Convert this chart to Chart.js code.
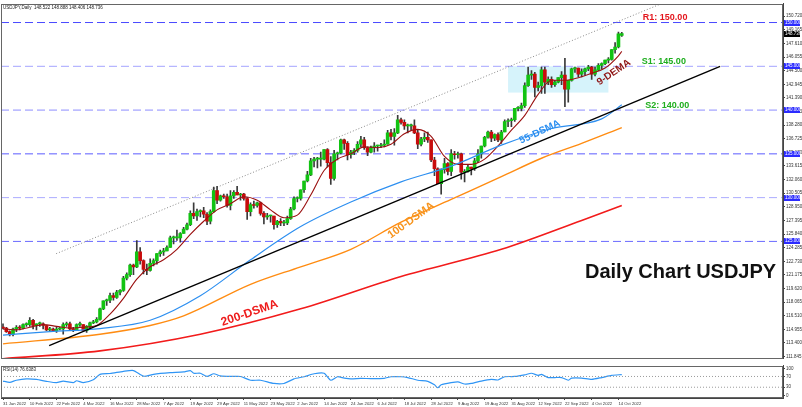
<!DOCTYPE html>
<html lang="en">
<head>
<meta charset="UTF-8">
<title>USDJPY Daily</title>
<script src="https://cdn.jsdelivr.net/npm/chart.js"></script>
<style>
  html, body { margin: 0; padding: 0; background: #fff; }
  #wrap { position: relative; width: 802px; height: 407px; overflow: hidden; }
  #mainBox { position: absolute; left: 0; top: 0; width: 802px; height: 362px; }
  #rsiBox { position: absolute; left: 0; top: 362px; width: 802px; height: 45px; }
</style>
</head>
<body>
<div id="wrap">
  <div id="mainBox"><canvas id="mainChart" width="802" height="362"></canvas></div>
  <div id="rsiBox"><canvas id="rsiChart" width="802" height="45"></canvas></div>
</div>
<script>
// daily bars, 31 Jan 2022 .. 17 Oct 2022 (index 0 .. 185)
const openP = [115.2,115.1,114.7,114.4,115.0,115.2,115.1,115.5,115.5,116.0,
  115.4,115.6,115.6,115.4,114.9,115.0,114.8,115.0,115.0,115.5,
  115.6,115.0,114.9,115.5,115.5,114.8,115.3,115.7,115.8,116.1,
  117.3,118.2,118.3,118.8,118.6,119.2,119.4,120.8,121.2,122.3,
  122.1,123.8,122.8,121.8,121.7,122.5,122.8,123.6,123.8,123.9,
  124.3,125.4,125.4,125.4,125.9,126.4,126.9,128.2,127.9,128.4,
  128.5,128.1,127.3,128.4,130.8,129.7,130.2,130.1,129.1,130.2,
  130.6,130.3,130.4,129.9,128.4,129.2,129.1,129.4,128.2,127.8,
  127.9,127.9,126.9,127.3,127.1,127.1,127.6,128.7,129.9,129.9,
  130.9,131.9,132.6,134.2,134.4,134.4,134.4,135.5,134.0,132.2,
  135.0,135.1,136.6,136.2,134.9,135.2,135.4,136.1,136.6,135.7,
  135.2,135.7,135.9,135.9,136.0,136.1,137.4,137.0,137.4,138.9,
  138.6,138.2,138.2,138.2,137.4,136.1,136.7,136.9,136.6,134.3,
  133.3,131.6,133.2,133.9,133.0,135.0,134.9,135.0,132.9,133.0,
  133.5,133.3,134.2,135.0,135.9,136.9,137.5,136.8,137.2,136.6,
  137.5,138.7,138.8,138.9,140.2,140.2,140.5,142.8,144.0,144.1,
  142.6,142.8,144.6,143.2,143.5,142.9,143.2,143.7,144.0,142.4,
  143.4,144.7,144.8,144.1,144.4,144.7,144.9,144.1,144.6,145.1,
  145.3,145.7,145.8,146.9,147.2,148.522];
const highP = [115.6,115.2,114.8,115.1,115.4,115.4,115.6,115.7,116.3,116.1,
  115.6,115.8,115.7,115.4,115.2,115.1,115.2,115.2,115.7,115.8,
  115.8,115.2,115.6,115.8,115.5,115.4,115.8,116.0,116.3,117.4,
  118.2,118.4,119.1,119.1,119.4,119.5,121.0,121.4,122.4,122.4,
  125.1,124.3,122.9,122.4,123.0,123.0,123.6,124.0,124.2,124.5,
  125.6,125.6,126.3,126.0,126.6,127.1,128.5,129.4,128.7,128.6,
  128.9,128.3,128.6,131.2,131.3,130.3,130.4,130.4,130.8,130.8,
  131.3,130.5,130.5,130.0,129.4,129.6,129.5,129.5,128.4,128.2,
  128.0,127.9,127.4,127.6,127.4,127.9,128.9,130.1,130.1,130.9,
  131.9,133.0,134.5,134.6,134.6,135.2,135.5,135.6,134.7,135.4,
  135.2,136.7,136.7,136.4,135.4,135.6,136.4,137.0,136.9,135.8,
  135.9,136.3,136.0,136.2,136.6,137.7,137.8,137.9,139.4,139.1,
  138.9,138.4,138.4,138.9,137.8,136.9,137.4,137.5,136.6,134.6,
  133.4,133.3,134.5,134.0,135.5,135.3,135.2,135.1,133.2,133.8,
  133.5,134.5,135.5,135.9,137.0,137.6,137.7,137.3,137.4,137.7,
  138.9,139.0,139.1,140.2,140.4,140.8,143.1,144.9,144.5,144.3,
  143.2,144.9,144.9,143.8,143.8,143.4,143.7,144.4,145.9,143.4,
  144.8,144.9,144.8,144.7,144.8,145.1,145.0,144.9,145.3,145.4,
  145.7,146.0,146.9,147.7,148.9,148.888];
const lowP = [115.0,114.6,114.2,114.2,114.7,114.9,115.0,115.3,115.3,115.0,
  114.9,115.3,115.0,114.8,114.8,114.7,114.6,114.9,114.4,115.3,
  114.9,114.7,114.9,115.3,114.8,114.6,115.1,115.6,115.7,116.0,
  117.2,117.7,118.0,118.3,118.5,118.9,119.3,120.6,121.0,121.2,
  122.0,122.4,121.3,121.2,121.6,122.2,122.4,123.3,123.4,123.9,
  124.3,124.7,125.1,124.9,125.9,126.3,126.8,127.6,127.4,127.8,
  127.7,126.9,127.0,128.3,129.3,129.6,129.9,128.9,128.6,129.9,
  130.3,129.7,129.7,127.5,127.9,128.8,128.9,128.0,127.0,127.5,
  127.2,126.4,126.6,126.8,126.8,126.9,127.5,128.6,129.5,129.7,
  130.6,131.8,132.5,133.5,133.4,133.6,134.3,133.5,131.5,132.0,
  134.3,135.0,135.5,134.3,134.5,134.9,135.2,135.8,135.5,134.8,
  135.1,135.2,135.3,135.7,135.8,136.1,136.6,136.0,137.3,138.4,
  137.8,137.4,137.7,137.3,135.6,135.9,136.4,136.3,134.1,132.5,
  131.6,130.4,132.8,132.6,132.5,134.4,134.5,132.1,131.8,132.9,
  132.6,133.1,134.0,134.5,135.8,136.8,136.4,136.5,136.4,136.2,
  137.5,138.1,138.1,138.7,139.9,139.9,140.3,142.7,143.5,141.5,
  142.2,141.9,141.9,142.9,142.6,142.7,143.1,142.9,140.4,140.9,
  143.3,144.3,143.8,143.8,144.0,144.5,143.5,143.9,144.5,144.7,
  145.2,145.4,145.7,146.5,147.1,148.406];
const closeP = [115.1,114.7,114.4,115.0,115.2,115.1,115.5,115.5,116.0,115.4,
  115.6,115.6,115.4,114.9,115.0,114.8,115.0,115.0,115.5,115.6,
  115.0,114.9,115.5,115.5,114.8,115.3,115.7,115.8,116.1,117.3,
  118.2,118.3,118.8,118.6,119.2,119.4,120.8,121.2,122.3,122.1,
  123.8,122.8,121.8,121.7,122.5,122.8,123.6,123.8,123.9,124.3,
  125.4,125.4,125.4,125.9,126.4,126.9,128.2,127.9,128.4,128.5,
  128.1,127.3,128.4,130.8,129.7,130.2,130.1,129.1,130.2,130.6,
  130.3,130.4,129.9,128.4,129.2,129.1,129.4,128.2,127.8,127.9,
  127.9,126.9,127.3,127.1,127.1,127.6,128.7,129.9,129.9,130.9,
  131.9,132.6,134.2,134.4,134.4,134.4,135.5,134.0,132.2,135.0,
  135.1,136.6,136.2,134.9,135.2,135.4,136.1,136.6,135.7,135.2,
  135.7,135.9,135.9,136.0,136.1,137.4,137.0,137.4,138.9,138.6,
  138.2,138.2,138.2,137.4,136.1,136.7,136.9,136.6,134.3,133.3,
  131.6,133.2,133.9,133.0,135.0,134.9,135.0,132.9,133.0,133.5,
  133.3,134.2,135.0,135.9,136.9,137.5,136.8,137.2,136.6,137.5,
  138.7,138.8,138.9,140.2,140.2,140.5,142.8,144.0,144.1,142.6,
  142.8,144.6,143.2,143.5,142.9,143.2,143.7,144.0,142.4,143.4,
  144.7,144.8,144.1,144.4,144.7,144.9,144.1,144.6,145.1,145.3,
  145.7,145.8,146.9,147.2,148.7,148.736];

// moving averages (bar index, price)
const demaIdx = [0,4,8,12,16,20,24,28,32,36,40,44,48,52,56,60,64,68,72,76,80,84,88,92,96,100,104,108,112,116,120,124,128,132,136,140,144,148,152,156,160,164,168,172,176,180,184,185];
const demaVal = [115.0,114.9,115.2,115.5,115.3,115.1,115.2,115.4,116.7,118.5,120.7,122.1,122.9,124.1,125.8,127.3,128.6,129.3,130.1,129.7,128.6,127.7,128.0,130.3,133.1,134.4,135.0,135.8,135.7,136.1,137.3,137.8,137.0,134.7,133.8,133.8,134.4,135.9,137.7,139.4,141.8,143.4,143.4,143.7,144.2,144.8,146.2,146.7];
const sma55Idx = [0,14,29,44,59,74,89,104,119,134,149,164,179,185];
const sma55Val = [114.3,114.7,115.05,116.0,118.8,122.9,126.7,129.5,131.8,133.6,136.0,137.9,139.0,140.6];
const sma100Idx = [0,29,44,54,74,89,104,119,134,149,161,173,185];
const sma100Val = [113.3,114.4,115.4,116.5,120.1,122.1,124.1,127.2,129.8,132.4,134.5,136.2,138.0];
const sma200Idx = [0,29,59,89,119,149,173,185];
const sma200Val = [111.6,112.5,114.4,117.3,121.0,124.1,127.4,129.1];

// RSI(14)
const rsiIdx = [0,2,4,7,10,13,16,18,21,22,24,27,29,32,36,39,42,45,50,54,56,57,59,61,63,65,68,71,74,77,81,84,87,90,93,96,98,100,102,104,107,110,114,116,119,121,124,127,129,130,131,134,136,138,140,143,146,148,150,153,156,158,160,161,163,165,167,169,170,173,176,179,182,185];
const rsiVal = [53,48,56,61,59,52,47,53,47,54,47,58,78,81,89,92,71,78,84,87,92,82,82,70,80,72,70,70,56,56,44,44,61,69,80,82,56,69,64,61,63,62,63,69,69,66,56,52,39,28,39,47,50,42,44,53,59,57,69,70,76,82,74,78,66,66,66,56,64,64,59,66,74,77];

// horizontal levels and drawn objects
const levels = [150, 145, 140, 135, 130, 125];
const trendIdx = [13.8, 214.4];
const trendVal = [113.1, 145.0];
const channelIdx = [15.9, 196.5];
const channelVal = [123.6, 152.1];
const boxIdx = [151, 181];
const boxVal = [142.0, 145.0];

// axis labels
const priceTicks = [111.845,113.400,114.955,116.510,118.065,119.620,121.175,122.730,124.285,125.840,127.395,128.950,130.505,132.060,133.615,135.170,136.725,138.280,139.835,141.390,142.945,144.500,146.055,147.610,149.165,150.720];
const xTickIdx = [0,8,16,24,32,40,48,56,64,72,80,88,96,104,112,120,128,136,144,152,160,168,176,184];
const xTickLabels = ['31 Jan 2022','10 Feb 2022','22 Feb 2022','4 Mar 2022','16 Mar 2022','28 Mar 2022','7 Apr 2022','19 Apr 2022','29 Apr 2022','11 May 2022','23 May 2022','2 Jun 2022','14 Jun 2022','24 Jun 2022','6 Jul 2022','18 Jul 2022','28 Jul 2022','9 Aug 2022','19 Aug 2022','31 Aug 2022','12 Sep 2022','22 Sep 2022','4 Oct 2022','14 Oct 2022'];

const X_MIN = -0.6, X_MAX = 233.2;
const FONT = "'Liberation Sans', Arial, sans-serif";
const levelColors = ['#4a4aff', '#a4a4ff', '#8e8eff', '#5c5cff', '#ababff', '#6a6aff'];

const pts = (xs, ys) => xs.map((x, i) => ({x: x, y: ys[i]}));

// text placed by bar index / price
const notes = [
  {text: 'R1: 150.00', idx: 191.3, price: 150.25, color: '#e3161d', size: 9, angle: 0, align: 'left'},
  {text: 'S1: 145.00', idx: 191.0, price: 145.25, color: '#1fae1f', size: 9, angle: 0, align: 'left'},
  {text: 'S2: 140.00', idx: 192.0, price: 140.25, color: '#1fae1f', size: 9, angle: 0, align: 'left'},
  {text: '9-DEMA', idx: 182.6, price: 144.3, color: '#8e1414', size: 10, angle: -34, align: 'center'},
  {text: '55-DSMA', idx: 160.5, price: 137.5, color: '#2a8ef0', size: 10, angle: -25, align: 'center'},
  {text: '100-DSMA', idx: 122.0, price: 127.4, color: '#f7941d', size: 11, angle: -36, align: 'center'},
  {text: '200-DSMA', idx: 73.7, price: 116.8, color: '#ee1c1c', size: 12, angle: -19, align: 'center'},
  {text: 'Daily Chart USDJPY', idx: 174.0, price: 120.8, color: '#111111', size: 20, angle: 0, align: 'left'}
];

const framePlugin = {
  id: 'frame',
  afterDatasetsDraw(chart) {
    const {ctx, chartArea: a} = chart;
    ctx.save();
    ctx.strokeStyle = '#666';
    ctx.lineWidth = 1;
    ctx.strokeRect(Math.round(a.left) + 0.5, Math.round(a.top) + 0.5,
      Math.round(a.right - a.left) - 1, Math.round(a.bottom - a.top) - 1);
    ctx.restore();
  }
};

const boxPlugin = {
  id: 'rangeBox',
  beforeDatasetsDraw(chart) {
    const {ctx, scales: {x, y}} = chart;
    const x0 = x.getPixelForValue(boxIdx[0]), x1 = x.getPixelForValue(boxIdx[1]);
    const y0 = y.getPixelForValue(boxVal[1]), y1 = y.getPixelForValue(boxVal[0]);
    ctx.save();
    ctx.fillStyle = '#d6f3fb';
    ctx.fillRect(x0, y0, x1 - x0, y1 - y0);
    ctx.restore();
  }
};

const notesPlugin = {
  id: 'notes',
  afterDatasetsDraw(chart) {
    const {ctx, chartArea: a, scales: {x, y}} = chart;
    ctx.save();
    notes.forEach(n => {
      const px = x.getPixelForValue(n.idx), py = y.getPixelForValue(n.price);
      ctx.save();
      ctx.translate(px, py);
      ctx.rotate(n.angle * Math.PI / 180);
      ctx.font = 'bold ' + n.size + 'px ' + FONT;
      ctx.fillStyle = n.color;
      ctx.textAlign = n.align;
      ctx.textBaseline = n.align === 'center' ? 'middle' : 'alphabetic';
      ctx.fillText(n.text, 0, 0);
      ctx.restore();
    });
    // header
    ctx.font = '4.5px ' + FONT;
    ctx.fillStyle = '#222';
    ctx.textAlign = 'left';
    ctx.textBaseline = 'middle';
    ctx.fillText('USDJPY,Daily  ' + openP[openP.length - 1].toFixed(3) + ' ' + highP[highP.length - 1].toFixed(3) + ' ' +
      lowP[lowP.length - 1].toFixed(3) + ' ' + closeP[closeP.length - 1].toFixed(3), a.left + 2, a.top + 4);
    ctx.restore();
  },
  afterDraw(chart) {
    const {ctx, chartArea: a, scales: {y}} = chart;
    ctx.save();
    ctx.font = '4.5px ' + FONT;
    ctx.textAlign = 'left';
    ctx.textBaseline = 'middle';
    const tag = (v, bg) => {
      const py = Math.round(y.getPixelForValue(v));
      ctx.fillStyle = bg;
      ctx.fillRect(a.right + 1, py - 3, 16, 6);
      ctx.fillStyle = '#ffffff';
      ctx.fillText(v.toFixed(3), a.right + 2, py);
    };
    levels.forEach(v => tag(v, '#2b2bff'));
    tag(closeP[closeP.length - 1], '#000000');
    ctx.restore();
  }
};

const levelSets = levels.map((v, i) => ({
  type: 'line',
  data: [{x: X_MIN, y: v}, {x: X_MAX, y: v}],
  borderColor: levelColors[i],
  borderWidth: 1,
  borderDash: [8, 4],
  pointRadius: 0,
  order: 10
}));

const maLine = (xs, ys, color, width) => ({
  type: 'line',
  data: pts(xs, ys),
  borderColor: color,
  borderWidth: width,
  pointRadius: 0,
  tension: 0.4,
  cubicInterpolationMode: 'monotone',
  order: 3
});

new Chart(document.getElementById('mainChart'), {
  type: 'bar',
  data: {
    datasets: [
      ...levelSets,
      {
        type: 'line',
        data: pts(channelIdx, channelVal),
        borderColor: '#8a8a8a',
        borderWidth: 1,
        borderDash: [1, 2],
        pointRadius: 0,
        order: 9
      },
      {
        data: openP.map((o, i) => ({x: i, y: [lowP[i], highP[i]]})),
        backgroundColor: '#3a3a3a',
        barThickness: 1,
        grouped: false,
        order: 8
      },
      {
        data: openP.map((o, i) => ({x: i, y: [o, closeP[i]]})),
        backgroundColor: ctx => closeP[ctx.dataIndex] >= openP[ctx.dataIndex] ? '#12c312' : '#c80c0c',
        barThickness: 3,
        minBarLength: 1,
        grouped: false,
        order: 7
      },
      maLine(sma200Idx, sma200Val, '#f21b1b', 1.6),
      maLine(sma100Idx, sma100Val, '#ff8c12', 1.4),
      maLine(sma55Idx, sma55Val, '#2d8ff0', 1.2),
      maLine(demaIdx, demaVal, '#9a1010', 1.1),
      {
        type: 'line',
        data: pts(trendIdx, trendVal),
        borderColor: '#000000',
        borderWidth: 1.4,
        pointRadius: 0,
        order: 2
      }
    ]
  },
  options: {
    responsive: false,
    animation: false,
    events: [],
    layout: {padding: {left: 1, top: 2, right: 0, bottom: 2}},
    plugins: {legend: {display: false}, tooltip: {enabled: false}},
    scales: {
      x: {type: 'linear', min: X_MIN, max: X_MAX, offset: false, display: false},
      y: {
        type: 'linear',
        position: 'right',
        min: 111.65,
        max: 152.15,
        afterBuildTicks: axis => { axis.ticks = priceTicks.map(v => ({value: v})); },
        afterFit: axis => { axis.width = 19; },
        ticks: {
          autoSkip: false,
          padding: 1,
          color: '#333',
          font: {size: 4.5, family: FONT},
          callback: v => Number(v).toFixed(3)
        },
        grid: {drawOnChartArea: false, tickLength: 2, color: '#444'},
        border: {color: '#444'}
      }
    }
  },
  plugins: [boxPlugin, notesPlugin, framePlugin]
});

const rsiPlugin = {
  id: 'rsiLabel',
  afterDatasetsDraw(chart) {
    const {ctx, chartArea: a} = chart;
    ctx.save();
    ctx.font = '4.5px ' + FONT;
    ctx.fillStyle = '#222';
    ctx.textBaseline = 'middle';
    ctx.fillText('RSI(14) 76.6383', a.left + 2, a.top + 4);
    ctx.restore();
  }
};

new Chart(document.getElementById('rsiChart'), {
  type: 'line',
  data: {
    datasets: [
      {data: [{x: X_MIN, y: 70}, {x: X_MAX, y: 70}], borderColor: '#9a9a9a', borderWidth: 1, borderDash: [1, 2], pointRadius: 0},
      {data: [{x: X_MIN, y: 30}, {x: X_MAX, y: 30}], borderColor: '#9a9a9a', borderWidth: 1, borderDash: [1, 2], pointRadius: 0},
      {data: pts(rsiIdx, rsiVal), borderColor: '#2f95f5', borderWidth: 1.2, pointRadius: 0, tension: 0.2}
    ]
  },
  options: {
    responsive: false,
    animation: false,
    events: [],
    layout: {padding: {left: 1, top: 0, right: 0, bottom: 0}},
    plugins: {legend: {display: false}, tooltip: {enabled: false}},
    scales: {
      x: {
        type: 'linear',
        min: X_MIN,
        max: X_MAX,
        offset: false,
        afterBuildTicks: axis => { axis.ticks = xTickIdx.map(v => ({value: v})); },
        afterFit: axis => { axis.height = 9; },
        ticks: {
          autoSkip: false,
          maxRotation: 0,
          minRotation: 0,
          align: 'start',
          padding: 1,
          color: '#333',
          font: {size: 4.2, family: FONT},
          callback: (v, i) => xTickLabels[i]
        },
        grid: {drawOnChartArea: false, tickLength: 2, color: '#444'},
        border: {color: '#444'}
      },
      y: {
        type: 'linear',
        position: 'right',
        min: -10,
        max: 110,
        afterBuildTicks: axis => { axis.ticks = [0, 30, 70, 100].map(v => ({value: v})); },
        afterFit: axis => { axis.width = 19; },
        ticks: {autoSkip: false, padding: 1, color: '#333', font: {size: 4.5, family: FONT}},
        grid: {drawOnChartArea: false, tickLength: 2, color: '#444'},
        border: {color: '#444'}
      }
    }
  },
  plugins: [rsiPlugin, framePlugin]
});
</script>
</body>
</html>
